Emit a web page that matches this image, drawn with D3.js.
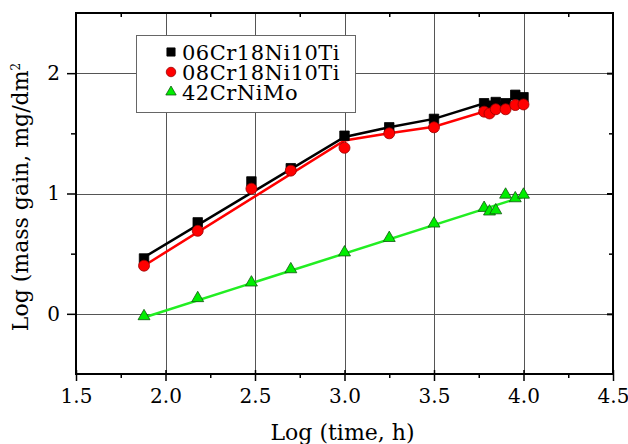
<!DOCTYPE html>
<html>
<head>
<meta charset="utf-8">
<script src="https://cdn.jsdelivr.net/npm/d3@7"></script>
<style>
  body { margin: 0; background: #fff; }
  svg { display: block; font-family: "DejaVu Serif", "Liberation Serif", serif; }
</style>
</head>
<body>
<div id="chart"></div>
<script>
// log(time, h) for each measured point
const logTime = [1.88, 2.18, 2.48, 2.70, 3.0, 3.25, 3.5, 3.78, 3.81, 3.845, 3.90, 3.954, 4.0];

// log(mass gain) per steel
const steel06 = [0.46, 0.76, 1.10, 1.21, 1.48, 1.55, 1.62, 1.75, 1.73, 1.76, 1.75, 1.82, 1.80];
const steel08 = [0.40, 0.69, 1.04, 1.19, 1.38, 1.50, 1.55, 1.68, 1.665, 1.70, 1.70, 1.735, 1.74];
const steel42 = [-0.02, 0.13, 0.26, 0.37, 0.51, 0.63, 0.75, 0.88, 0.85, 0.86, 0.99, 0.96, 0.99];

// drawn (fitted) lines
const line06 = [[1.88, 0.47], [3.0, 1.47], [3.25, 1.55], [3.5, 1.62], [3.78, 1.75], [3.81, 1.73], [3.845, 1.76], [3.90, 1.75], [3.954, 1.81], [4.0, 1.79]];
const line08 = [[1.88, 0.40], [3.0, 1.44], [3.25, 1.50], [3.5, 1.555], [3.78, 1.68], [3.81, 1.665], [3.845, 1.70], [3.90, 1.70], [3.954, 1.735], [4.0, 1.74]];
const line42 = [[1.88, -0.03], [4.0, 0.975]];

const seriesNames = ['06Cr18Ni10Ti', '08Cr18Ni10Ti', '42CrNiMo'];

const xTicks = [1.5, 2.0, 2.5, 3.0, 3.5, 4.0, 4.5];
const yTicks = [0, 1, 2];

const width = 628, height = 444;
const margin = { top: 13, right: 15, bottom: 70, left: 76 };

const svg = d3.select('#chart').append('svg')
    .attr('width', width)
    .attr('height', height);

const x = d3.scaleLinear().domain([1.5, 4.5]).range([margin.left, width - margin.right]);
const y = d3.scaleLinear().domain([-0.5, 2.5]).range([height - margin.bottom, margin.top]);

const x0 = x.range()[0], x1 = x.range()[1];
const y0 = y.range()[0], y1 = y.range()[1];

// grid
const grid = svg.append('g').attr('stroke', '#555').attr('stroke-width', 1);
grid.selectAll('line.vx')
    .data(xTicks.slice(1, -1))
    .enter().append('line')
    .attr('x1', d => Math.round(x(d)) + 0.5).attr('x2', d => Math.round(x(d)) + 0.5)
    .attr('y1', y1).attr('y2', y0);
grid.selectAll('line.hy')
    .data(yTicks)
    .enter().append('line')
    .attr('y1', d => Math.round(y(d)) + 0.5).attr('y2', d => Math.round(y(d)) + 0.5)
    .attr('x1', x0).attr('x2', x1);

// axes
const xMinor = d3.range(1.75, 4.5, 0.5);
const yMinor = [0.5, 1.5];

svg.append('g')
    .attr('transform', `translate(0,${y0})`)
    .call(d3.axisBottom(x).tickValues(xTicks).tickFormat(d3.format('.1f')).tickSize(7).tickPadding(8))
    .call(g => g.select('.domain').remove())
    .call(g => g.selectAll('.tick line').attr('y1', -4).attr('stroke-width', 1.5))
    .call(g => g.selectAll('.tick text').attr('font-size', 20).attr('font-family', 'DejaVu Serif'));
svg.append('g')
    .attr('transform', `translate(0,${y0})`)
    .call(d3.axisBottom(x).tickValues(xMinor).tickFormat('').tickSize(4))
    .call(g => g.select('.domain').remove())
    .call(g => g.selectAll('.tick line').attr('stroke-width', 1.5));

svg.append('g')
    .attr('transform', `translate(${x0},0)`)
    .call(d3.axisLeft(y).tickValues(yTicks).tickFormat(d3.format('d')).tickSize(9).tickPadding(7))
    .call(g => g.select('.domain').remove())
    .call(g => g.selectAll('.tick line').attr('stroke-width', 1.5))
    .call(g => g.selectAll('.tick text').attr('font-size', 20).attr('font-family', 'DejaVu Serif'));
svg.append('g')
    .attr('transform', `translate(${x0},0)`)
    .call(d3.axisLeft(y).tickValues(yMinor).tickFormat('').tickSize(5))
    .call(g => g.select('.domain').remove())
    .call(g => g.selectAll('.tick line').attr('stroke-width', 1.5));

// top and right inner ticks
svg.append('g')
    .attr('transform', `translate(0,${y1})`)
    .call(d3.axisBottom(x).tickValues(xMinor).tickFormat('').tickSize(4))
    .call(g => g.select('.domain').remove())
    .call(g => g.selectAll('.tick line').attr('stroke-width', 1.5));
svg.append('g')
    .attr('transform', `translate(${x1},0)`)
    .call(d3.axisLeft(y).tickValues(yTicks).tickFormat('').tickSize(6))
    .call(g => g.select('.domain').remove())
    .call(g => g.selectAll('.tick line').attr('stroke-width', 2));
svg.append('g')
    .attr('transform', `translate(${x1},0)`)
    .call(d3.axisLeft(y).tickValues(yMinor).tickFormat('').tickSize(4))
    .call(g => g.select('.domain').remove())
    .call(g => g.selectAll('.tick line').attr('stroke-width', 1.5));

// frame
svg.append('rect')
    .attr('x', x0).attr('y', y1)
    .attr('width', x1 - x0).attr('height', y0 - y1)
    .attr('fill', 'none')
    .attr('stroke', '#000')
    .attr('stroke-width', 2);

// lines
const lineGen = d3.line().x(d => x(d[0])).y(d => y(d[1]));
const lineData = [
    { pts: line06, color: '#000000' },
    { pts: line08, color: '#ff0000' },
    { pts: line42, color: '#22ee22' }
];
svg.selectAll('path.fit')
    .data(lineData)
    .enter().append('path')
    .attr('class', 'fit')
    .attr('d', d => lineGen(d.pts))
    .attr('fill', 'none')
    .attr('stroke', d => d.color)
    .attr('stroke-width', 2.5);

// markers
const markerStyles = [
    { type: d3.symbolSquare, size: 90, fill: '#000', stroke: '#000' },
    { type: d3.symbolCircle, size: 95, fill: '#ff0000', stroke: '#990000' },
    { type: d3.symbolTriangle, size: 62, fill: '#00ee00', stroke: '#115511' }
];
const seriesValues = [steel06, steel08, steel42];

seriesValues.forEach((vals, i) => {
    const st = markerStyles[i];
    svg.append('g').selectAll('path')
        .data(vals.map((v, j) => [logTime[j], v]))
        .enter().append('path')
        .attr('transform', d => `translate(${x(d[0])},${y(d[1])})`)
        .attr('d', d3.symbol().type(st.type).size(st.size))
        .attr('fill', st.fill)
        .attr('stroke', st.stroke)
        .attr('stroke-width', 0.8);
});

// legend
const legend = svg.append('g');
legend.append('rect')
    .attr('x', 136.5).attr('y', 35.5)
    .attr('width', 219).attr('height', 77)
    .attr('fill', '#fff')
    .attr('stroke', '#666')
    .attr('stroke-width', 1);
seriesNames.forEach((name, i) => {
    const st = markerStyles[i];
    const cy = 52 + i * 20;
    legend.append('path')
        .attr('transform', `translate(171,${cy})`)
        .attr('d', d3.symbol().type(st.type).size(st.size * 0.75))
        .attr('fill', st.fill)
        .attr('stroke', st.stroke)
        .attr('stroke-width', 0.8);
    legend.append('text')
        .attr('x', 182)
        .attr('y', cy + 8)
        .attr('font-size', 21)
        .attr('letter-spacing', 0.5)
        .text(name);
});

// axis titles
svg.append('text')
    .attr('x', (x0 + x1) / 2 - 2)
    .attr('y', 440)
    .attr('text-anchor', 'middle')
    .attr('font-size', 22)
    .text('Log (time, h)');

svg.append('text')
    .attr('transform', 'translate(28,197) rotate(-90)')
    .attr('text-anchor', 'middle')
    .attr('font-size', 22)
    .html('Log (mass gain, mg/dm<tspan dy="-8" font-size="12">2</tspan>');
</script>
</body>
</html>
